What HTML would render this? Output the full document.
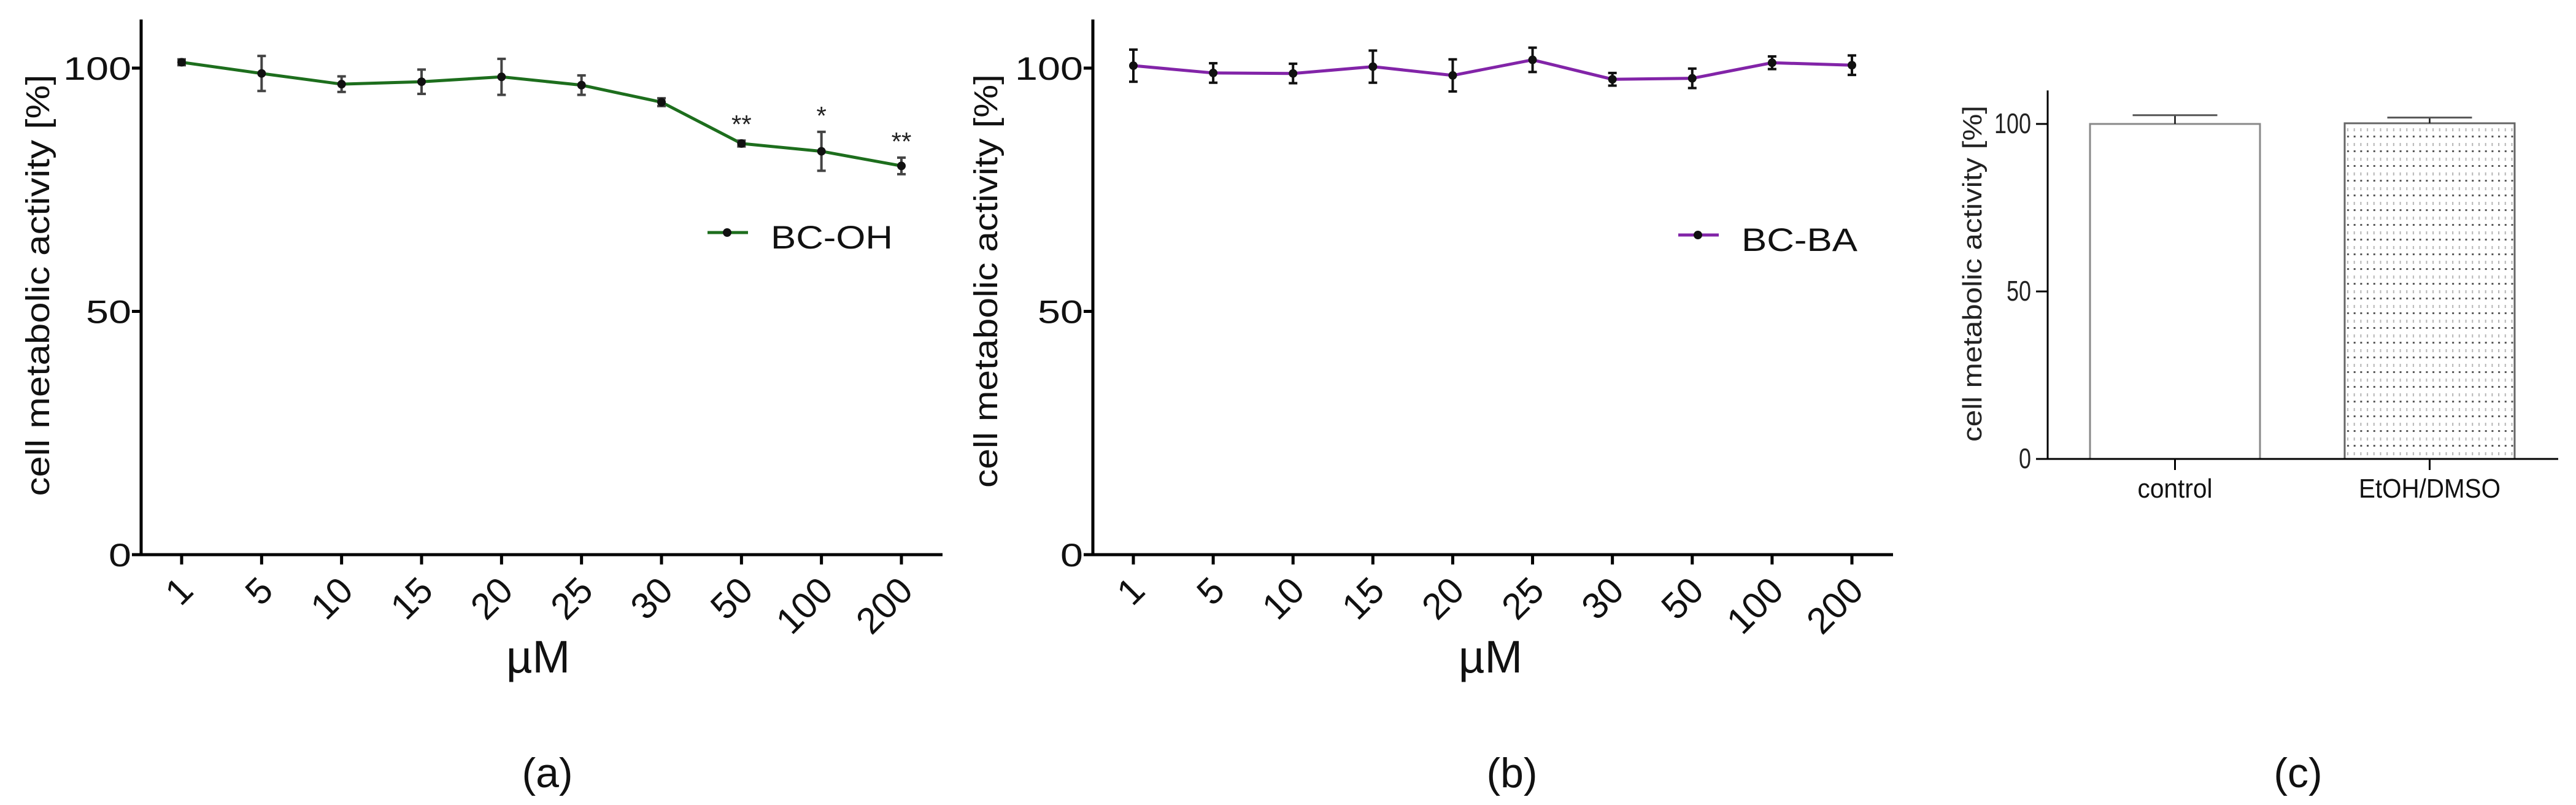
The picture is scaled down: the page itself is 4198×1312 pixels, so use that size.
<!DOCTYPE html>
<html><head><meta charset="utf-8">
<style>
html,body{margin:0;padding:0;background:#fff;}
svg{display:block;font-family:"Liberation Sans",Arial,sans-serif;}
</style></head>
<body>
<svg id="fig" width="4198" height="1312" viewBox="0 0 4198 1312" xmlns="http://www.w3.org/2000/svg">
<defs>
<pattern id="dots" width="10.7" height="24" patternUnits="userSpaceOnUse" x="3821" y="206">
<rect width="10.7" height="24" fill="#fff"/>
<rect x="4" y="3" width="2" height="5" fill="#b5b5b5"/>
<rect x="4" y="15" width="3" height="3" fill="#555"/>
</pattern>
</defs>
<g id="chartA"></g>
<g id="chartB"></g>
<g id="chartC"></g>
</svg>
<script>
const categories = ["1","5","10","15","20","25","30","50","100","200"];
const seriesA = [101.2, 98.9, 96.7, 97.2, 98.2, 96.5, 93.0, 84.5, 82.9, 79.9];
const errA = [0.6, 3.6, 1.6, 2.5, 3.7, 2.0, 0.8, 0.6, 4.0, 1.7];
const sigA = ["", "", "", "", "", "", "", "**", "*", "**"];
const seriesB = [100.5, 99.0, 98.9, 100.3, 98.5, 101.7, 97.7, 97.9, 101.1, 100.6];
const errB = [3.3, 2.0, 2.0, 3.3, 3.3, 2.5, 1.3, 2.0, 1.3, 2.0];
const yTicks = [0, 50, 100];
const barCats = ["control", "EtOH/DMSO"];
const barVals = [100, 100.2];
const barErr = [2.6, 1.7];

const NS = "http://www.w3.org/2000/svg";
function mk(parent, tag, attrs, text) {
  const e = document.createElementNS(NS, tag);
  for (const k in attrs) e.setAttribute(k, attrs[k]);
  if (text !== undefined) e.textContent = text;
  parent.appendChild(e);
  return e;
}

function lineChart(g, cfg, vals, errs, sig) {
  const y = v => cfg.y0 - (cfg.y0 - cfg.y100) * v / 100;
  const x = i => cfg.x1 + (cfg.x10 - cfg.x1) * i / (categories.length - 1);
  let e = mk(g, "line", {x1: cfg.ax, y1: y(0), x2: cfg.ax, y2: y(110), stroke: "#000", "stroke-width": 5});
  
  
  e = mk(g, "line", {x1: cfg.ax - 2, y1: y(0), x2: cfg.axEnd, y2: y(0), stroke: "#000", "stroke-width": 5});
  
  
  yTicks.forEach(t => {
    let tk = mk(g, "line", {x1: cfg.ax - 15, y1: y(t), x2: cfg.ax, y2: y(t), stroke: "#000", "stroke-width": 5});
    
    
    const s = String(t);
    let lb = mk(g, "text", {x: cfg.ax - 16, y: y(t) + 19, "text-anchor": "end", "font-size": 53, fill: "#111", textLength: 37 * s.length, lengthAdjust: "spacingAndGlyphs"}, s);
    
    
  });
  categories.forEach((c, i) => {
    let tk = mk(g, "line", {x1: x(i), y1: y(0), x2: x(i), y2: y(0) + 16, stroke: "#000", "stroke-width": 5});
    
    
    let lb = mk(g, "text", {x: 0, y: 0, "text-anchor": "end", "font-size": 60, fill: "#111", transform: `translate(${x(i) + 22},${y(0) + 62}) rotate(-45)`}, c);
    
    
  });
  let yt = mk(g, "text", {x: 0, y: 0, "text-anchor": "middle", "font-size": 54, fill: "#111", textLength: cfg.titleLen, lengthAdjust: "spacingAndGlyphs", transform: `translate(${cfg.titleX},${cfg.titleY}) rotate(-90)`}, "cell metabolic activity [%]");
  
  
  let xt = mk(g, "text", {x: cfg.muX, y: 1096, "text-anchor": "middle", "font-size": 74, fill: "#111"}, "\u00B5M");
  
  
  let pl = mk(g, "text", {x: cfg.labX, y: 1283, "text-anchor": "middle", "font-size": 68, fill: "#111"}, cfg.panel);
  
  
  const pts = vals.map((v, i) => x(i) + "," + y(v)).join(" ");
  let ln = mk(g, "polyline", {points: pts, fill: "none", stroke: cfg.color, "stroke-width": 5});
  
  
  vals.forEach((v, i) => {
    const eb = mk(g, "g", {});
    
    
    mk(eb, "line", {x1: x(i), y1: y(v - errs[i]), x2: x(i), y2: y(v + errs[i]), stroke: cfg.errColor, "stroke-width": 4});
    mk(eb, "line", {x1: x(i) - 7, y1: y(v - errs[i]), x2: x(i) + 7, y2: y(v - errs[i]), stroke: cfg.errColor, "stroke-width": 4});
    mk(eb, "line", {x1: x(i) - 7, y1: y(v + errs[i]), x2: x(i) + 7, y2: y(v + errs[i]), stroke: cfg.errColor, "stroke-width": 4});
    let p = mk(g, "circle", {cx: x(i), cy: y(v), r: 7, fill: "#111"});
    
    
    if (sig && sig[i]) {
      let s = mk(g, "text", {x: x(i), y: y(v + errs[i]) - 12, "text-anchor": "middle", "font-size": 42, fill: "#222"}, sig[i]);
      
      
    }
  });
  const lg = mk(g, "g", {});
  
  
  mk(lg, "line", {x1: cfg.legX, y1: cfg.legY, x2: cfg.legX + 66, y2: cfg.legY, stroke: cfg.color, "stroke-width": 5});
  mk(lg, "circle", {cx: cfg.legX + 32, cy: cfg.legY, r: 7, fill: "#111"});
  mk(lg, "text", {x: cfg.legX + 103, y: cfg.legY + 26, "font-size": 53, fill: "#111", textLength: cfg.legLen, lengthAdjust: "spacingAndGlyphs"}, cfg.name);
}

lineChart(document.getElementById("chartA"), {
  ax: 230, axEnd: 1536, y0: 904, y100: 111, x1: 296, x10: 1469,
  titleX: 80, titleY: 465, titleLen: 687, muX: 877, labX: 892, panel: "(a)",
  color: "#1d6e1d", errColor: "#444", legX: 1153, legY: 379, legLen: 199, name: "BC-OH"
}, seriesA, errA, sigA);

lineChart(document.getElementById("chartB"), {
  ax: 1781, axEnd: 3085, y0: 904, y100: 111, x1: 1847, x10: 3018,
  titleX: 1625, titleY: 458, titleLen: 674, muX: 2429, labX: 2464, panel: "(b)",
  color: "#8224a8", errColor: "#111", legX: 2735, legY: 383, legLen: 189, name: "BC-BA"
}, seriesB, errB, null);

(function () {
  const g = document.getElementById("chartC");
  const ax = 3337, axEnd = 4169, y0 = 748, y100 = 202;
  const y = v => y0 - (y0 - y100) * v / 100;
  const bx = [3406, 3821], bw = 277;
  let e = mk(g, "line", {x1: ax, y1: y(0), x2: ax, y2: y(110), stroke: "#000", "stroke-width": 3});
  
  
  barCats.forEach((c, i) => {
    const fill = i === 0 ? "#fff" : "url(#dots)";
    let b = mk(g, "rect", {x: bx[i], y: y(barVals[i]), width: bw, height: y(0) - y(barVals[i]), fill: fill, stroke: i === 0 ? "#888" : "#666", "stroke-width": 3});
    
    
    const cx = bx[i] + bw / 2;
    const eb = mk(g, "g", {});
    
    
    mk(eb, "line", {x1: cx, y1: y(barVals[i]), x2: cx, y2: y(barVals[i] + barErr[i]), stroke: "#111", "stroke-width": 2.5});
    mk(eb, "line", {x1: cx - 69, y1: y(barVals[i] + barErr[i]), x2: cx + 69, y2: y(barVals[i] + barErr[i]), stroke: "#555", "stroke-width": 3});
    let tk = mk(g, "line", {x1: cx, y1: y(0), x2: cx, y2: y(0) + 18, stroke: "#000", "stroke-width": 3});
    
    
    let lb = mk(g, "text", {x: cx, y: 811, "text-anchor": "middle", "font-size": 44, fill: "#111", textLength: i === 0 ? 122 : 231, lengthAdjust: "spacingAndGlyphs"}, c);
    
    
  });
  e = mk(g, "line", {x1: ax, y1: y(0), x2: axEnd, y2: y(0), stroke: "#000", "stroke-width": 3});
  
  
  yTicks.forEach(t => {
    let tk = mk(g, "line", {x1: ax - 19, y1: y(t), x2: ax, y2: y(t), stroke: "#000", "stroke-width": 3});
    
    
    const s = String(t);
    let lb = mk(g, "text", {x: ax - 27, y: y(t) + 15, "text-anchor": "end", "font-size": 46, fill: "#222", textLength: 20 * s.length, lengthAdjust: "spacingAndGlyphs"}, s);
    
    
  });
  let yt = mk(g, "text", {x: 0, y: 0, "text-anchor": "middle", "font-size": 44, fill: "#222", textLength: 548, lengthAdjust: "spacingAndGlyphs", transform: "translate(3229,446) rotate(-90)"}, "cell metabolic activity [%]");
  
  
  let pl = mk(g, "text", {x: 3745, y: 1283, "text-anchor": "middle", "font-size": 68, fill: "#111"}, "(c)");
  
  
})();
</script>
</body></html>
